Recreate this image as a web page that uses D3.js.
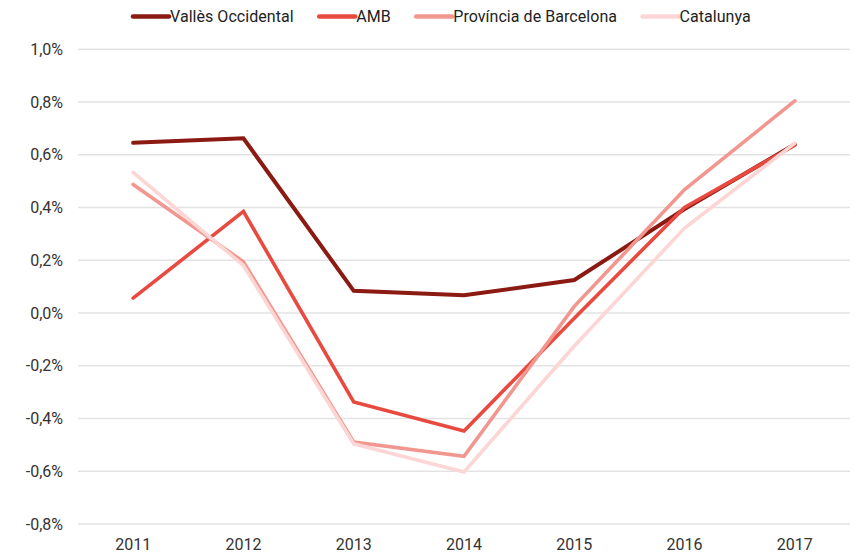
<!DOCTYPE html>
<html>
<head>
<meta charset="utf-8">
<script src="https://cdn.jsdelivr.net/npm/d3@7"></script>
<style>
  html, body { margin: 0; padding: 0; background: #fff; }
  svg { display: block; }
  text { font-family: Roboto, "Noto Sans", sans-serif; }
</style>
</head>
<body>
<svg id="chart" width="856" height="556"></svg>
<script>
const years = ["2011", "2012", "2013", "2014", "2015", "2016", "2017"];
const seriesNames = ["Vallès Occidental", "AMB", "Província de Barcelona", "Catalunya"];
const seriesColors = ["#8b1a12", "#e84a40", "#f29690", "#fcd6d4"];
const valles = [0.645, 0.662, 0.084, 0.067, 0.125, 0.394, 0.640];
const amb = [0.056, 0.385, -0.337, -0.447, -0.020, 0.400, 0.636];
const provincia = [0.487, 0.194, -0.489, -0.543, 0.025, 0.468, 0.804];
const catalunya = [0.533, 0.180, -0.496, -0.603, -0.125, 0.322, 0.644];
const yTicks = [-0.8, -0.6, -0.4, -0.2, 0.0, 0.2, 0.4, 0.6, 0.8, 1.0];

const seriesValues = [valles, amb, provincia, catalunya];
const svg = d3.select("#chart");

const x = d3.scaleBand().domain(years).range([78, 850]).padding(0);
const y = d3.scaleLinear().domain([-0.8, 1.0]).range([524, 49.2]);
const xc = d => x(d) + x.bandwidth() / 2;

// gridlines
svg.append("g").selectAll("line").data(yTicks).join("line")
  .attr("x1", 78).attr("x2", 850)
  .attr("y1", d => y(d)).attr("y2", d => y(d))
  .attr("stroke", "#e3e3e3").attr("stroke-width", 1.5);

// y axis labels
const yAxis = d3.axisLeft(y).tickValues(yTicks).tickSize(0).tickPadding(0)
  .tickFormat(d => d3.format(".1f")(d).replace("−", "-").replace(".", ",") + "%");
const gy = svg.append("g").attr("transform", "translate(63,0)").call(yAxis);
gy.select(".domain").remove();
gy.selectAll("text").attr("font-size", 16).attr("fill", "#333").attr("font-family", "Roboto, sans-serif");

// x axis labels
const xAxis = d3.axisBottom(x).tickSize(0).tickPadding(0);
const gx = svg.append("g").attr("transform", "translate(0,539)").call(xAxis);
gx.select(".domain").remove();
gx.selectAll("text").attr("font-size", 16).attr("fill", "#333").attr("font-family", "Roboto, sans-serif");

// lines
const line = d3.line().x((d, i) => xc(years[i])).y(d => y(d));
seriesValues.forEach((vals, i) => {
  svg.append("path").datum(vals)
    .attr("d", line)
    .attr("fill", "none")
    .attr("stroke", seriesColors[i])
    .attr("stroke-width", i === 0 ? 4 : 3.6)
    .attr("stroke-linejoin", "miter")
    .attr("stroke-linecap", "round");
});

// legend
const lg = svg.append("g");
let lx = 133;
const ly = 16.5;
seriesNames.forEach((name, i) => {
  lg.append("line").attr("x1", lx).attr("x2", lx + 36).attr("y1", ly).attr("y2", ly)
    .attr("stroke", seriesColors[i]).attr("stroke-width", 4.5).attr("stroke-linecap", "round");
  const t = lg.append("text").attr("x", lx + 37).attr("y", ly).attr("dy", "0.35em")
    .attr("font-size", 16).attr("letter-spacing", 0.05).attr("fill", "#222").text(name);
  lx += 37 + t.node().getComputedTextLength() + 25.5;
});
</script>
</body>
</html>
